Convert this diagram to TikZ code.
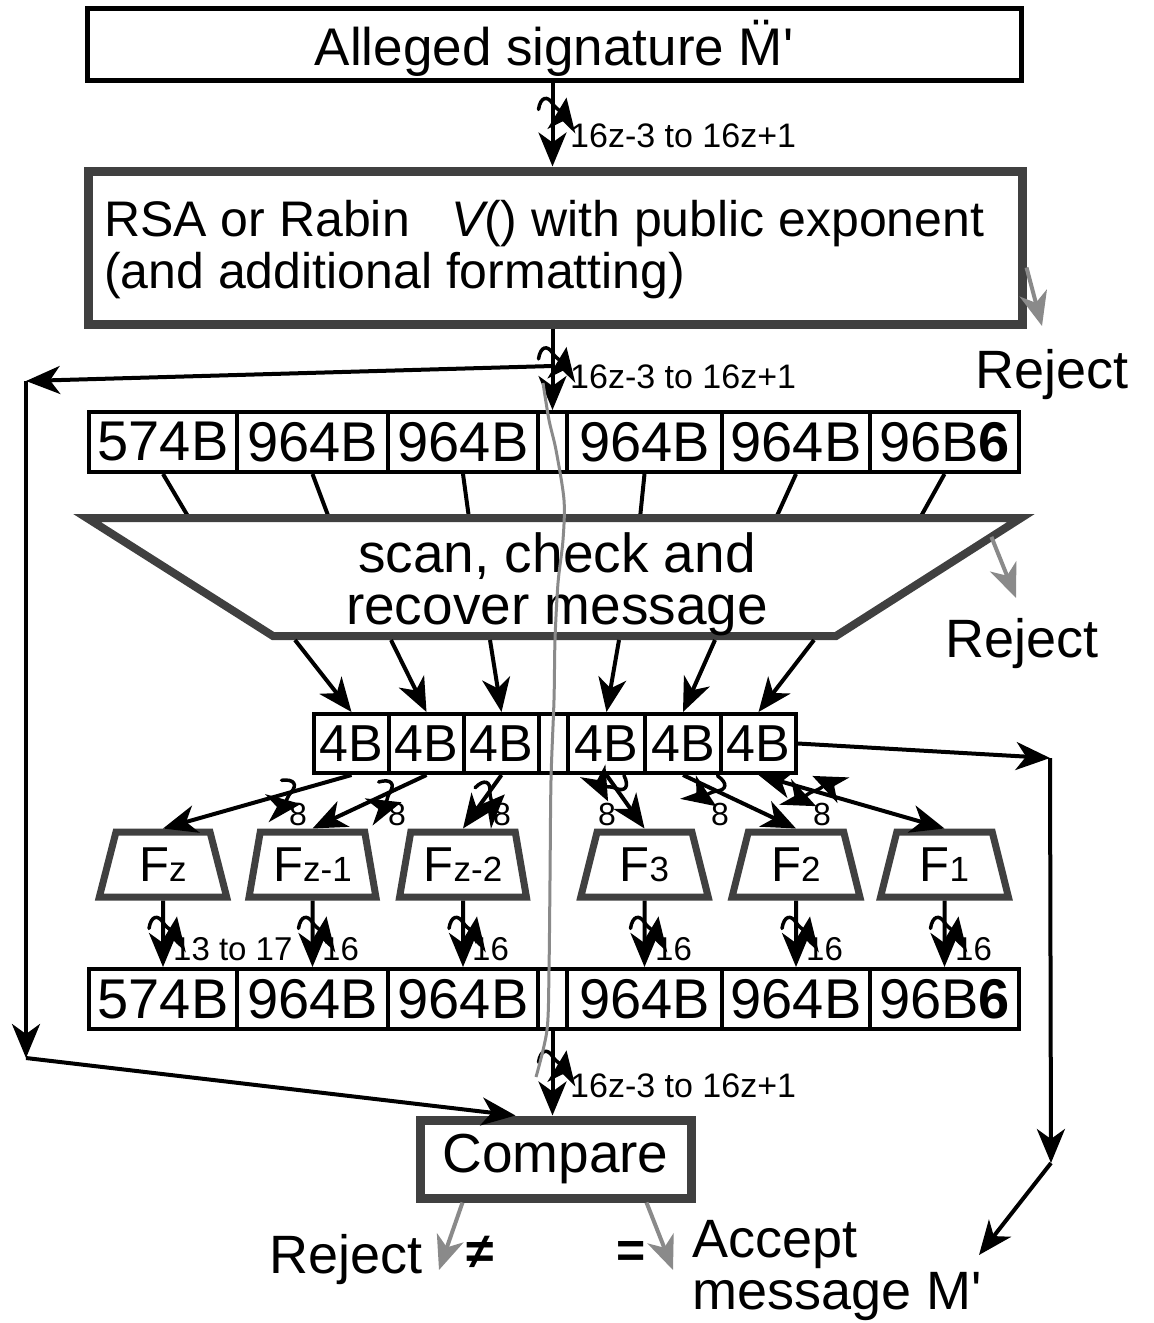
\documentclass[tikz,border=0pt]{standalone}
\usepackage{fontspec}
\setmainfont{Liberation Sans}
\usetikzlibrary{arrows.meta,shapes.geometric,calc}
\definecolor{framegray}{HTML}{404040}
\definecolor{rejectgray}{HTML}{8A8A8A}
\newcommand{\fsz}[1]{\fontsize{#1}{#1}\selectfont}
\newcommand{\idx}[1]{{\fsz{35}#1}}
\tikzset{
  % size-break mark across a vertical connector
  vtilde/.pic={\draw[line width=3.5pt,line cap=round] (-14,6) .. controls (-12,-7) and (-5,-8) .. (0,0) .. controls (5,8) and (12,7) .. (14,-6);},
  % the same mark across a slanted connector (drawn across the local x axis)
  stilde/.pic={\draw[line width=3.5pt,line cap=round] (-6,-14) .. controls (7,-12) and (8,-5) .. (0,0) .. controls (-8,5) and (-7,12) .. (6,14);},
  head/.tip={Stealth[length=34pt 0 0,width=28pt 0 0,inset=10pt 0 0]},
}
\begin{document}
\begin{tikzpicture}[x=1pt,y=-1pt,
  flow/.style={draw=black,line width=4pt,-head},
  both/.style={draw=black,line width=4pt,head-head},
  link/.style={draw=black,line width=4pt},
  reject/.style={draw=rejectgray,line width=4pt,-head},
  cell/.style={draw,line width=4pt,minimum height=60pt,inner sep=0pt,font=\fsz{56}},
  qcell/.style={draw,line width=4pt,minimum height=59pt,inner sep=0pt,font=\fsz{52}},
  fbox/.style={trapezium,trapezium left angle=76,trapezium right angle=76,trapezium stretches=true,
    minimum width=128pt,minimum height=65pt,draw=framegray,line width=7pt,fill=white,inner sep=0pt,font=\fsz{49}},
  size/.style={inner sep=0pt,font=\fsz{33},anchor=base west},
  wide/.style={inner sep=0pt,font=\fsz{34},anchor=base west},
  eight/.style={inner sep=0pt,font=\fsz{32},anchor=base},
  big/.style={inner sep=0pt,font=\fsz{54},anchor=base west},
]
\useasboundingbox (0,0) rectangle (1154,1323);
\fill[white] (0,0) rectangle (1154,1323);

% signature and public-key operation
\node[draw,line width=5pt,minimum width=934pt,minimum height=72pt] (sig) at (554,44) {};
\node[inner sep=0pt,font=\fsz{53},anchor=base] (sigtext) at (554,65) {Alleged signature M̈\textquotesingle};
\node[draw=framegray,line width=9pt,minimum width=934pt,minimum height=153pt] (rsa) at (555,247.5) {};
\node[inner sep=0pt,font=\fsz{50},anchor=base west] (rsa1) at (104,236) {RSA or Rabin\hspace{42pt}\textit{V}\kern-5pt() with public exponent};
\node[inner sep=0pt,font=\fsz{50},anchor=base west] (rsa2) at (104,288) {(and additional formatting)};

% recovered signature blocks
\node[cell,minimum width=148pt] (t1) at (163,442) {574B};
\node[cell,minimum width=151pt] (t2) at (312.5,442) {964B};
\node[cell,minimum width=150pt] (t3) at (463,442) {964B};
\node[cell,minimum width=29pt] (t4) at (552.5,442) {};
\node[cell,minimum width=155pt] (t5) at (644.5,442) {964B};
\node[cell,minimum width=148pt] (t6) at (796,442) {964B};
\node[cell,minimum width=149pt] (t7) at (944.5,442) {96B\textbf{6}};

\draw[flow] (t4.north |- sig.south) -- pic[pos=0.25]{vtilde} (t4.north |- rsa.north);
\node[wide] (len1) at (570,147) {16z-3 to 16z+1};
\draw[flow] (t4.north |- rsa.south) -- pic[pos=0.3]{vtilde} (t4.north);
\node[wide] (len2) at (570,388) {16z-3 to 16z+1};

% scan / check / recover
\coordinate (tz-tl) at (87,518);
\coordinate (tz-tr) at (1021,518);
\coordinate (tz-br) at (836,636);
\coordinate (tz-bl) at (273,636);
\foreach \c/\x in {t1/189,t2/329,t3/469,t5/640,t6/776,t7/920}
  \draw[link] (\c.south) -- (\x,518);
\draw[draw=framegray,line width=8pt,fill=white,line join=miter] (tz-tl) -- (tz-tr) -- (tz-br) -- (tz-bl) -- cycle;
\node[inner sep=0pt,font=\fsz{55},anchor=base] (scan1) at (557,572) {scan, check and};
\node[inner sep=0pt,font=\fsz{55},anchor=base] (scan2) at (557,624) {recover message};

\coordinate (rej1) at (1042,326);
\draw[reject] ([yshift=-20pt]rsa.east) -- (rej1);
\node[big] (rejtext1) at (975,388) {Reject};
\coordinate (rej2) at (1016,598);
\draw[reject] ($(tz-tr)!0.16!(tz-br)$) -- (rej2);
\node[big] (rejtext2) at (945,657) {Reject};

% four-byte groups
\node[qcell,minimum width=75pt] (q1) at (351.5,743.5) {4B};
\node[qcell,minimum width=75pt] (q2) at (426.5,743.5) {4B};
\node[qcell,minimum width=75pt] (q3) at (501.5,743.5) {4B};
\node[qcell,minimum width=29pt] (q4) at (553.5,743.5) {};
\node[qcell,minimum width=77pt] (q5) at (606.5,743.5) {4B};
\node[qcell,minimum width=76pt] (q6) at (683,743.5) {4B};
\node[qcell,minimum width=75pt] (q7) at (758.5,743.5) {4B};
\foreach \x/\c in {295/q1,391/q2,490/q3,619/q5,715/q6,814/q7}
  \draw[flow] (\x,640) -- (\c.north);

% expansion functions
\node[fbox] (f1) at (163,864.5) {F\idx{z}};
\node[fbox] (f2) at (312.5,864.5) {F\idx{z-1}};
\node[fbox] (f3) at (463,864.5) {F\idx{z-2}};
\node[fbox] (f4) at (644.5,864.5) {F\idx{3}};
\node[fbox] (f5) at (796,864.5) {F\idx{2}};
\node[fbox] (f6) at (944.5,864.5) {F\idx{1}};
\draw[flow] (q1.south) -- pic[pos=0.32,sloped]{stilde} (f1.north);
\draw[flow] (q2.south) -- pic[pos=0.32,sloped]{stilde} (f2.north);
\draw[flow] (q3.south) -- pic[pos=0.3,sloped]{stilde} (f3.north);
\draw[flow] (q5.south) -- pic[pos=0.25,sloped]{stilde} (f4.north);
\draw[flow] (q6.south) -- pic[pos=0.3,sloped]{stilde} (f5.north);
\draw[both] (q7.south) -- pic[pos=0.3,sloped]{stilde} (f6.north);
\foreach \x [count=\i] in {298,397,502,607,720,822}
  \node[eight] (w\i) at (\x,825) {8};

% recomputed blocks
\node[cell,minimum width=148pt] (b1) at (163,999) {574B};
\node[cell,minimum width=151pt] (b2) at (312.5,999) {964B};
\node[cell,minimum width=150pt] (b3) at (463,999) {964B};
\node[cell,minimum width=29pt] (b4) at (552.5,999) {};
\node[cell,minimum width=155pt] (b5) at (644.5,999) {964B};
\node[cell,minimum width=148pt] (b6) at (796,999) {964B};
\node[cell,minimum width=149pt] (b7) at (944.5,999) {96B\textbf{6}};
\draw[flow] (f1.south) -- pic[pos=0.33]{vtilde} (b1.north);
\draw[flow] (f2.south) -- pic[pos=0.33]{vtilde} (b2.north);
\draw[flow] (f3.south) -- pic[pos=0.33]{vtilde} (b3.north);
\draw[flow] (f4.south) -- pic[pos=0.33]{vtilde} (b5.north);
\draw[flow] (f5.south) -- pic[pos=0.33]{vtilde} (b6.north);
\draw[flow] (f6.south) -- pic[pos=0.33]{vtilde} (b7.north);
\node[size] (n1) at (173,960) {13 to 17};
\node[size] (n2) at (322,960) {16};
\node[size] (n3) at (472,960) {16};
\node[size] (n4) at (655,960) {16};
\node[size] (n5) at (806,960) {16};
\node[size] (n6) at (955,960) {16};

% comparison
\node[draw=framegray,line width=9pt,minimum width=271pt,minimum height=78pt,font=\fsz{55}] (cmp) at (555.5,1159) {Compare};
\draw[flow] (b4.south) -- pic[pos=0.3]{vtilde} (b4.south |- cmp.north);
\node[wide] (len3) at (570,1097) {16z-3 to 16z+1};

% copy of the recovered message, routed to the left
\coordinate (tap) at (552.5,366);
\coordinate (ctl) at (26,381);
\coordinate (cbl) at (26,1058);
\draw[flow] (tap) -- (ctl);
\draw[flow] (ctl) -- (cbl);
\draw[flow] (cbl) -- ([xshift=-40pt]cmp.north);

% recovered message, routed to the right
\coordinate (ctr) at (1050,758);
\coordinate (cbr) at (1051,1163);
\coordinate (acc) at (979,1255);
\draw[flow] (q7.east) -- (ctr);
\draw[flow] (ctr) -- (cbr);
\draw[flow] (cbr) -- (acc);

% outcomes
\coordinate (rej3) at (439,1270);
\coordinate (ok) at (673,1270);
\draw[reject] ([xshift=-93pt]cmp.south) -- (rej3);
\draw[reject] ([xshift=91pt]cmp.south) -- (ok);
\node[big] (rejtext3) at (269,1273) {Reject};
\node[inner sep=0pt,font=\fsz{50}\bfseries] (ne) at (480,1252) {≠};
\node[inner sep=0pt,font=\fsz{50}\bfseries] (eq) at (631,1254) {=};
\node[big] (acc1) at (692,1257) {Accept};
\node[big] (acc2) at (692,1309) {message M\textquotesingle};

% omitted middle blocks
\draw[rejectgray,line width=3pt] plot[smooth] coordinates {(543,383) (549,420) (556,450) (564,500) (563,540) (558,583) (555,640) (554,700) (551,780) (550,880) (549,970) (547,1030) (536,1077)};
\end{tikzpicture}
\end{document}
